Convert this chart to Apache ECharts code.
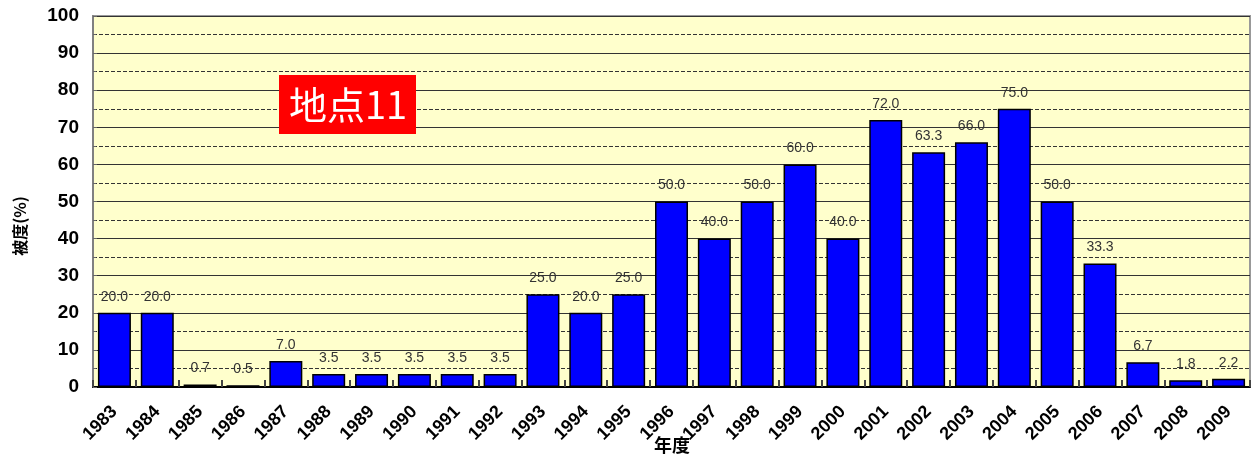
<!DOCTYPE html>
<html><head><meta charset="utf-8">
<script src="https://cdn.jsdelivr.net/npm/echarts@6/dist/echarts.min.js"></script>
<style>html,body{margin:0;padding:0;background:#fff}#c{width:1254px;height:454px}</style>
</head><body><div id="c"></div>
<script>
const years = ['1983','1984','1985','1986','1987','1988','1989','1990','1991','1992','1993','1994','1995','1996','1997','1998','1999','2000','2001','2002','2003','2004','2005','2006','2007','2008','2009'];
const coverage = [20.0,20.0,0.7,0.5,7.0,3.5,3.5,3.5,3.5,3.5,25.0,20.0,25.0,50.0,40.0,50.0,60.0,40.0,72.0,63.3,66.0,75.0,50.0,33.3,6.7,1.8,2.2];
const yTicks = [0,10,20,30,40,50,60,70,80,90,100];
const chartTitle = '地点11';
const yTitle = '被度(%)';
const xTitle = '年度';

const chart = echarts.init(document.getElementById('c'));
chart.setOption({
  animation: false,
  backgroundColor: '#ffffff',
  grid: {left: 93, right: 4, top: 16, bottom: 67, outerBoundsMode: 'none', containLabel: false, show: true, backgroundColor: '#FFFFCC', borderColor: '#999999', borderWidth: 2},
  xAxis: {
    type: 'category', data: years,
    axisLine: {lineStyle: {color: '#000', width: 2}},
    axisTick: {show: true, inside: true, length: 7, lineStyle: {color: '#444', width: 2}},
    axisLabel: {rotate: 45, margin: 22, fontSize: 18, fontWeight: 'bold', color: '#000', fontFamily: 'Liberation Sans'}
  },
  yAxis: {
    type: 'value', min: yTicks[0], max: yTicks[yTicks.length-1], interval: 10,
    axisLine: {show: true, lineStyle: {color: '#808080', width: 2}},
    axisTick: {show: true, inside: true, length: 4, lineStyle: {color: '#666'}},
    minorTick: {show: true, splitNumber: 2, length: 3, lineStyle: {color: '#666'}},
    axisLabel: {margin: 14, fontSize: 19, fontWeight: 'bold', color: '#000', fontFamily: 'Liberation Sans'},
    splitLine: {show: true, lineStyle: {color: '#333', width: 1.2}},
    minorSplitLine: {show: true, lineStyle: {color: '#333', width: 1, type: [4, 2]}}
  },
  graphic: [
    {type: 'rect', left: 279, top: 75, shape: {width: 137, height: 59}, style: {fill: '#FF0000'}, z: 100},
    {type: 'text', x: 348, y: 105, style: {text: chartTitle, fill: '#fff', fontSize: 38, fontFamily: 'Noto Sans CJK JP', align: 'center', verticalAlign: 'middle'}, z: 101},
    {type: 'text', x: 20, y: 226, rotation: Math.PI/2, style: {text: yTitle, fill: '#000', fontSize: 16, fontWeight: 'bold', fontFamily: 'Noto Sans CJK JP', align: 'center', verticalAlign: 'middle'}, z: 101},
    {type: 'text', x: 672, y: 445, style: {text: xTitle, fill: '#000', fontSize: 18, fontWeight: 'bold', fontFamily: 'Noto Sans CJK JP', align: 'center', verticalAlign: 'middle'}, z: 101}
  ],
  series: [{
    type: 'bar', data: coverage, barCategoryGap: '23%',
    itemStyle: {color: '#0000FF', borderColor: '#000', borderWidth: 1.5},
    label: {show: true, position: 'top', distance: 9, fontSize: 14, color: '#333', fontFamily: 'Liberation Sans', formatter: p => p.value.toFixed(1)}
  }]
});
</script></body></html>
